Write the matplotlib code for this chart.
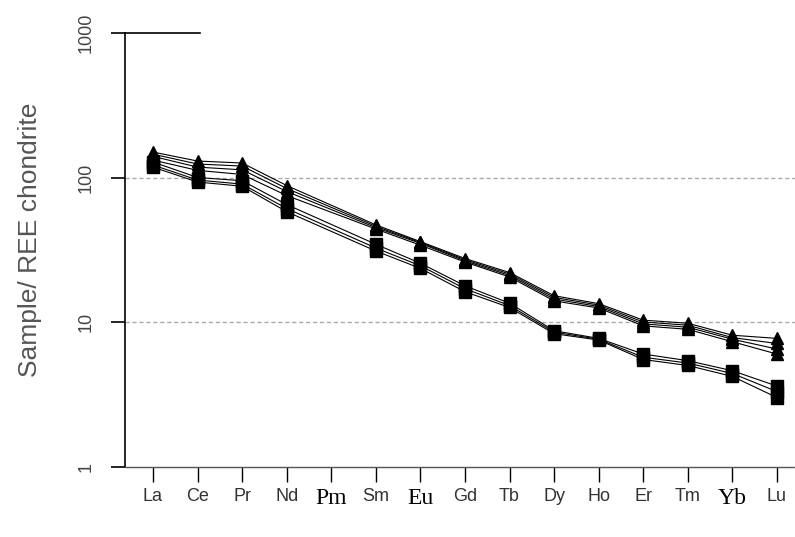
import numpy as np
import matplotlib
matplotlib.use("Agg")
import matplotlib.pyplot as plt
from matplotlib.ticker import FixedLocator, NullLocator

elements = ['La', 'Ce', 'Pr', 'Nd', 'Pm', 'Sm', 'Eu', 'Gd', 'Tb', 'Dy', 'Ho', 'Er', 'Tm', 'Yb', 'Lu']
serif_labels = ['Pm', 'Eu', 'Yb']
nan = np.nan

# upper group (triangles), chondrite normalised
tri_1 = [150, 130, 126, 88, nan, 47, 36, 27.5, 22, 15.2, 13.4, 10.3, 9.8, 8.1, 7.7]
tri_2 = [145, 124, 120, 84, nan, 46, 35.5, 27, 21.5, 14.8, 13.1, 10.0, 9.5, 7.8, 7.1]
tri_3 = [140, 118, 113, 80, nan, 45, 35, 26.5, 21, 14.4, 12.8, 9.7, 9.2, 7.6, 6.5]
tri_4 = [132, 112, 105, 75, nan, 44, 34, 26, 20.5, 14.0, 12.5, 9.4, 8.9, 7.3, 6.0]

# lower group (squares)
sq_1 = [128, 100, 95, 65, nan, 34.5, 25.5, 17.8, 13.5, 8.7, 7.7, 6.0, 5.4, 4.6, 3.6]
sq_2 = [122, 96, 90, 61, nan, 32.5, 24.5, 17.0, 13.0, 8.5, 7.6, 5.7, 5.2, 4.4, 3.3]
sq_3 = [118, 93, 87, 58, nan, 31, 23.5, 16.2, 12.6, 8.3, 7.5, 5.5, 5.0, 4.2, 3.0]

W, H = 795, 537
fig = plt.figure(figsize=(W / 100, H / 100), dpi=100)
ax = fig.add_axes([125 / W, 1 - 466.5 / H, (W - 125) / W, (466.5 - 33) / H])

x = np.arange(len(elements))


def plot_series(vals, marker, ms):
    v = np.array(vals, dtype=float)
    ok = ~np.isnan(v)
    ax.plot(x[ok], v[ok], color='black', lw=0.8, marker=marker, ms=ms,
            mfc='black', mec='black', zorder=3)


for s in [tri_1, tri_2, tri_3, tri_4]:
    plot_series(s, '^', 8)
for s in [sq_1, sq_2, sq_3]:
    plot_series(s, 's', 9)

ax.set_yscale('log')
ax.set_ylim(1, 1000)
ax.set_xlim((125 - 153) / 44.57, (W - 153) / 44.57)

# gridlines
for g in [10, 100]:
    ax.axhline(g, color='#aaaaaa', lw=1, ls=(0, (3, 2)), zorder=1)

# spines
for side in ['top', 'right']:
    ax.spines[side].set_visible(False)
ax.spines['left'].set_linewidth(1.2)
ax.spines['bottom'].set_color('#555555')
ax.spines['bottom'].set_linestyle((0, (1.5, 1)))
ax.spines['bottom'].set_linewidth(1)

# short solid line at top
ax.plot([ax.get_xlim()[0], (200 - 153) / 44.57], [1000, 1000], color='black',
        lw=1.2, clip_on=False)

ax.yaxis.set_major_locator(FixedLocator([1, 10, 100, 1000]))
ax.yaxis.set_minor_locator(NullLocator())
ax.set_yticklabels(['1', '10', '100', '1000'], rotation=90, va='center',
                   fontfamily='Liberation Sans', fontsize=13, color='#444444')
ax.tick_params(axis='y', length=10, width=1.2, pad=12)

ax.set_xticks(x)
ax.set_xticklabels(elements)
ax.tick_params(axis='x', length=10.5, width=1, pad=5)
for lab in ax.get_xticklabels():
    if lab.get_text() in serif_labels:
        lab.set_fontfamily('Liberation Serif')
        lab.set_fontsize(17)
        lab.set_color('black')
    else:
        lab.set_fontfamily('Liberation Sans')
        lab.set_fontsize(13)
        lab.set_color('#333333')

fig.text(30 / W, 1 - 240 / H, 'Sample/ REE chondrite', rotation=90,
         ha='center', va='center', fontfamily='Liberation Sans',
         fontsize=19, color='#555555')

fig.savefig('out.png', dpi=100)
